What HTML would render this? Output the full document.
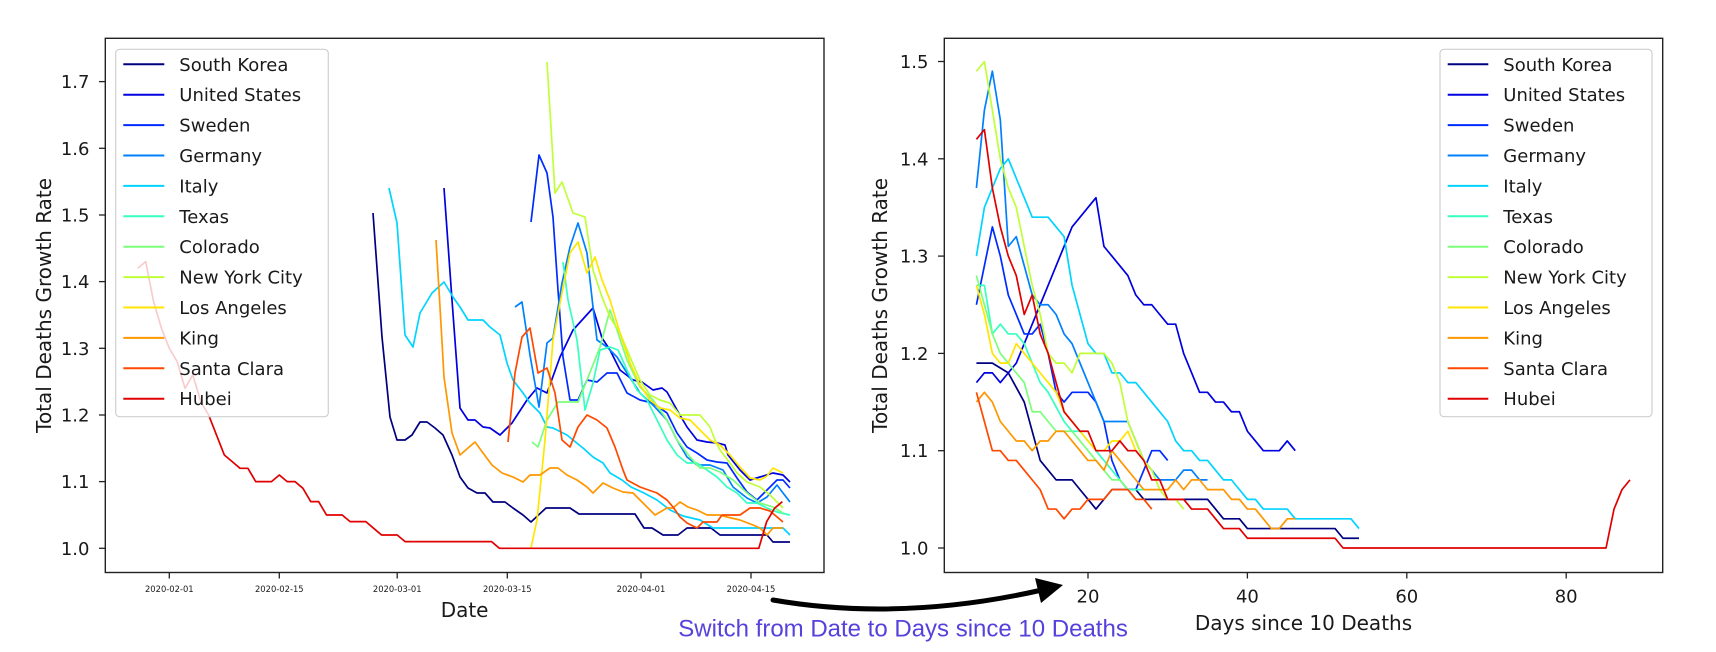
<!DOCTYPE html>
<html>
<head>
<meta charset="utf-8">
<style>
  html,body{margin:0;padding:0;background:#fff;}
  svg{display:block;}
  svg polyline{fill:none;vector-effect:non-scaling-stroke;stroke-width:1.7px;stroke-linejoin:round;stroke-linecap:butt;}
  .t{font-family:"DejaVu Sans","Liberation Sans",sans-serif;fill:#1a1a1a;}
</style>
</head>
<body>
<svg width="1716" height="652" viewBox="0 0 1716 652" xmlns="http://www.w3.org/2000/svg">
<rect x="0" y="0" width="1716" height="652" fill="#fff"/>

<!-- ================= LEFT CHART ================= -->
<g>
  <!-- SK -->
  <polyline stroke="#000080" points="373,213 382,337 390,417 397,440 405,440 412,435 420,422 427,422 435,428 443,435 452,455 460,477 468,488 477,493 485,493 493,502 505,502 513,508 523,515 531,522 546,508 570,508 579,514 635,514 644,528 652,528 663,535 678,535 687,528 711,528 720,535 767,535 773,542 790,542"/>
  <!-- US -->
  <polyline stroke="#0000e0" points="444,188 452,300 460,408 468,420 475,420 483,427 490,428 500,435 512,423 527,400 537,388 547,393 560,357 573,330 593,308 602,338 610,350 620,370 633,380 642,382 653,390 662,388 667,392 677,410 687,427 697,440 707,442 717,443 725,445 728,455 740,470 750,480 760,477 773,473 783,475 790,482"/>
  <!-- Sweden -->
  <polyline stroke="#002bff" points="531,222 539,155 547,173 553,217 558,290 563,357 570,400 578,400 587,380 597,382 607,373 617,373 627,393 640,400 653,403 667,413 677,433 687,447 697,453 707,460 717,462 727,463 737,478 747,492 757,500 767,490 777,480 783,480 790,488"/>
  <!-- Germany -->
  <polyline stroke="#0080ff" points="515,307 522,302 530,355 539,407 547,343 553,338 562,283 570,247 578,223 587,253 593,307 597,340 607,347 617,357 627,373 640,393 653,405 667,420 677,440 687,457 697,465 710,465 723,470 733,487 747,498 757,503 767,497 777,485 783,493 790,502"/>
  <!-- Italy -->
  <polyline stroke="#00d4ff" points="389,188 397,223 405,335 413,347 420,313 432,293 444,282 453,297 460,307 468,320 483,320 490,327 500,335 507,363 513,380 523,393 530,403 540,413 547,427 553,428 567,435 573,440 583,448 593,457 603,463 610,473 622,480 631,487 644,493 657,500 670,510 683,516 700,520 713,528 783,528 790,535"/>
  <!-- Texas -->
  <polyline stroke="#37ffc0" points="563,262 568,300 577,340 585,410 593,383 600,350 610,347 618,350 627,370 637,390 647,400 657,420 667,440 677,455 687,463 697,463 707,470 717,477 727,487 737,493 747,503 757,503 767,508 777,512 790,515"/>
  <!-- Colorado -->
  <polyline stroke="#7bff7b" points="532,442 538,447 547,420 558,402 578,402 587,380 600,347 610,310 617,330 627,360 640,387 653,400 667,420 677,440 690,457 700,468 710,468 720,472 733,480 747,493 760,503 773,507 783,513"/>
  <!-- NYC -->
  <polyline stroke="#c0ff37" points="547,62 555,193 562,182 573,213 585,217 593,270 602,297 610,317 620,333 630,357 640,380 650,395 660,400 670,403 680,415 700,415 710,427 715,440 720,450 730,463 737,473 747,482 760,487 770,495 783,508"/>
  <!-- LA -->
  <polyline stroke="#ffe600" points="531,548 537,520 545,440 553,340 562,293 570,253 578,242 587,273 595,257 602,280 610,300 620,333 630,363 640,385 650,400 660,408 670,410 680,418 690,420 700,430 710,440 720,445 730,455 740,467 750,478 760,480 767,476 773,468 783,473"/>
  <!-- King -->
  <polyline stroke="#ff9700" points="436,240 440,307 444,377 452,433 460,455 468,448 475,442 483,453 492,465 502,473 513,477 523,482 530,475 540,475 550,468 558,468 567,475 577,480 587,487 593,493 603,483 613,488 623,492 633,493 647,507 655,515 667,508 673,508 680,502 688,507 697,510 707,515 720,515 727,517 740,520 753,525 760,528 767,535 773,528 783,528"/>
  <!-- Santa Clara -->
  <polyline stroke="#ff4800" points="508,442 515,373 522,337 530,328 538,373 547,368 555,393 562,440 570,447 578,427 587,415 597,420 607,428 615,447 623,470 627,480 640,487 657,493 667,500 673,507 680,517 687,523 697,528 703,522 717,522 722,515 740,515 750,508 760,508 770,511 783,522"/>
  <!-- Hubei -->
  <g transform="matrix(7.86 0 0 -666.7 90.7 1215)">
    <polyline stroke="#e00000" points="6,1.42 7,1.43 8,1.37 9,1.33 10,1.30 11,1.28 12,1.24 13,1.26 14,1.22 15,1.20 16,1.17 17,1.14 18,1.13 19,1.12 20,1.12 21,1.10 22,1.10 23,1.10 24,1.11 25,1.10 26,1.10 27,1.09 28,1.07 29,1.07 30,1.05 31,1.05 32,1.05 33,1.04 34,1.04 35,1.04 36,1.03 37,1.02 38,1.02 39,1.02 40,1.01 51,1.01 52,1.00 85,1.00 86,1.04 87,1.06 88,1.07"/>
  </g>
</g>

<!-- left axes frame -->
<rect x="105.3" y="38.3" width="718.7" height="534.2" fill="none" stroke="#222" stroke-width="1.4"/>
<!-- left y ticks -->
<g stroke="#222" stroke-width="1.3">
  <line x1="99" y1="548.3" x2="105.3" y2="548.3"/>
  <line x1="99" y1="481.6" x2="105.3" y2="481.6"/>
  <line x1="99" y1="415" x2="105.3" y2="415"/>
  <line x1="99" y1="348.3" x2="105.3" y2="348.3"/>
  <line x1="99" y1="281.6" x2="105.3" y2="281.6"/>
  <line x1="99" y1="215" x2="105.3" y2="215"/>
  <line x1="99" y1="148.3" x2="105.3" y2="148.3"/>
  <line x1="99" y1="81.6" x2="105.3" y2="81.6"/>
  <!-- x ticks -->
  <line x1="169.3" y1="572.5" x2="169.3" y2="578.5"/>
  <line x1="279.3" y1="572.5" x2="279.3" y2="578.5"/>
  <line x1="397.2" y1="572.5" x2="397.2" y2="578.5"/>
  <line x1="507.3" y1="572.5" x2="507.3" y2="578.5"/>
  <line x1="641" y1="572.5" x2="641" y2="578.5"/>
  <line x1="751" y1="572.5" x2="751" y2="578.5"/>
</g>
<g class="t" font-size="18" text-anchor="end">
  <text x="89.5" y="554.8">1.0</text>
  <text x="89.5" y="488.1">1.1</text>
  <text x="89.5" y="421.5">1.2</text>
  <text x="89.5" y="354.8">1.3</text>
  <text x="89.5" y="288.1">1.4</text>
  <text x="89.5" y="221.5">1.5</text>
  <text x="89.5" y="154.8">1.6</text>
  <text x="89.5" y="88.1">1.7</text>
</g>
<g class="t" font-size="8.4" text-anchor="middle">
  <text x="169.3" y="592">2020-02-01</text>
  <text x="279.3" y="592">2020-02-15</text>
  <text x="397.2" y="592">2020-03-01</text>
  <text x="507.3" y="592">2020-03-15</text>
  <text x="641" y="592">2020-04-01</text>
  <text x="751" y="592">2020-04-15</text>
</g>
<text class="t" font-size="20" text-anchor="middle" x="464.6" y="617">Date</text>
<text class="t" font-size="20" text-anchor="middle" transform="translate(51,305.4) rotate(-90)">Total Deaths Growth Rate</text>

<!-- left legend -->
<rect x="115.7" y="49.3" width="212.6" height="367.4" rx="4" ry="4" fill="#fff" fill-opacity="0.8" stroke="#cfcfcf" stroke-width="1.2"/>
<g stroke-width="2">
  <line x1="123.3" x2="164.3" y1="64.3" y2="64.3" stroke="#000080"/>
  <line x1="123.3" x2="164.3" y1="94.7" y2="94.7" stroke="#0000e0"/>
  <line x1="123.3" x2="164.3" y1="125.1" y2="125.1" stroke="#002bff"/>
  <line x1="123.3" x2="164.3" y1="155.5" y2="155.5" stroke="#0080ff"/>
  <line x1="123.3" x2="164.3" y1="185.9" y2="185.9" stroke="#00d4ff"/>
  <line x1="123.3" x2="164.3" y1="216.3" y2="216.3" stroke="#37ffc0"/>
  <line x1="123.3" x2="164.3" y1="246.7" y2="246.7" stroke="#7bff7b"/>
  <line x1="123.3" x2="164.3" y1="277.1" y2="277.1" stroke="#c0ff37"/>
  <line x1="123.3" x2="164.3" y1="307.5" y2="307.5" stroke="#ffe600"/>
  <line x1="123.3" x2="164.3" y1="337.9" y2="337.9" stroke="#ff9700"/>
  <line x1="123.3" x2="164.3" y1="368.3" y2="368.3" stroke="#ff4800"/>
  <line x1="123.3" x2="164.3" y1="398.7" y2="398.7" stroke="#e00000"/>
</g>
<g class="t" font-size="18">
  <text x="179.3" y="70.8">South Korea</text>
  <text x="179.3" y="101.2">United States</text>
  <text x="179.3" y="131.6">Sweden</text>
  <text x="179.3" y="162">Germany</text>
  <text x="179.3" y="192.4">Italy</text>
  <text x="179.3" y="222.8">Texas</text>
  <text x="179.3" y="253.2">Colorado</text>
  <text x="179.3" y="283.6">New York City</text>
  <text x="179.3" y="314">Los Angeles</text>
  <text x="179.3" y="344.4">King</text>
  <text x="179.3" y="374.8">Santa Clara</text>
  <text x="179.3" y="405.2">Hubei</text>
</g>

<!-- ================= RIGHT CHART ================= -->
<g transform="matrix(7.97 0 0 -973 928.6 1521)">
  <polyline stroke="#000080" points="6,1.19 7,1.19 8,1.19 9,1.185 10,1.18 11,1.165 12,1.15 13,1.12 14,1.09 15,1.08 16,1.07 17,1.07 18,1.07 19,1.06 20,1.05 21,1.04 22,1.05 23,1.06 24,1.06 25,1.06 26,1.06 27,1.05 28,1.05 29,1.05 30,1.05 31,1.05 32,1.05 33,1.05 34,1.05 35,1.05 36,1.04 37,1.03 38,1.03 39,1.03 40,1.02 41,1.02 50,1.02 51,1.02 52,1.01 53,1.01 54,1.01"/>
  <polyline stroke="#0000e0" points="6,1.17 7,1.18 8,1.18 9,1.17 10,1.18 11,1.19 12,1.21 13,1.23 14,1.25 15,1.27 16,1.29 17,1.31 18,1.33 19,1.34 20,1.35 21,1.36 22,1.31 23,1.30 24,1.29 25,1.28 26,1.26 27,1.25 28,1.25 29,1.24 30,1.23 31,1.23 32,1.20 33,1.18 34,1.16 35,1.16 36,1.15 37,1.15 38,1.14 39,1.14 40,1.12 41,1.11 42,1.10 43,1.10 44,1.10 45,1.11 46,1.10"/>
  <polyline stroke="#002bff" points="6,1.25 7,1.29 8,1.33 9,1.30 10,1.26 11,1.24 12,1.22 13,1.22 14,1.23 15,1.20 16,1.16 17,1.15 18,1.16 19,1.16 20,1.16 21,1.15 22,1.13 23,1.09 24,1.07 25,1.06 26,1.06 27,1.08 28,1.10 29,1.10 30,1.09"/>
  <polyline stroke="#0080ff" points="6,1.37 7,1.45 8,1.49 9,1.44 10,1.31 11,1.32 12,1.29 13,1.26 14,1.25 15,1.25 16,1.24 17,1.22 18,1.21 19,1.19 20,1.17 21,1.15 22,1.13 23,1.13 24,1.13 25,1.13 26,1.11 27,1.09 28,1.08 29,1.07 30,1.07 31,1.07 32,1.08 33,1.08 34,1.07 35,1.07"/>
  <polyline stroke="#00d4ff" points="6,1.30 7,1.35 8,1.37 9,1.39 10,1.40 11,1.38 12,1.36 13,1.34 14,1.34 15,1.34 16,1.33 17,1.32 18,1.27 19,1.24 20,1.21 21,1.20 22,1.20 23,1.18 24,1.18 25,1.17 26,1.17 27,1.16 28,1.15 29,1.14 30,1.13 31,1.11 32,1.10 33,1.10 34,1.09 35,1.09 36,1.08 37,1.07 38,1.07 39,1.06 40,1.05 41,1.05 42,1.04 43,1.04 44,1.04 45,1.04 46,1.03 53,1.03 54,1.02"/>
  <polyline stroke="#37ffc0" points="6,1.27 7,1.27 8,1.22 9,1.23 10,1.22 11,1.22 12,1.21 13,1.19 14,1.17 15,1.16 16,1.145 17,1.13 18,1.12 19,1.12 20,1.11 21,1.10 22,1.09 23,1.08 24,1.07 25,1.06 26,1.06 27,1.06"/>
  <polyline stroke="#7bff7b" points="6,1.28 7,1.25 8,1.22 9,1.20 10,1.19 11,1.18 12,1.17 13,1.14 14,1.14 15,1.13 16,1.12 17,1.12 18,1.12 19,1.11 20,1.10 21,1.09 22,1.08 23,1.07 24,1.07 25,1.06 26,1.05"/>
  <polyline stroke="#c0ff37" points="6,1.49 7,1.50 8,1.45 9,1.40 10,1.37 11,1.35 12,1.31 13,1.27 14,1.24 15,1.20 16,1.19 17,1.19 18,1.18 19,1.20 20,1.20 21,1.20 22,1.20 23,1.19 24,1.17 25,1.13 26,1.11 27,1.09 28,1.08 29,1.06 30,1.05 31,1.05 32,1.04"/>
  <polyline stroke="#ffe600" points="6,1.27 7,1.24 8,1.20 9,1.19 10,1.19 11,1.21 12,1.20 13,1.19 14,1.18 15,1.17 16,1.16 17,1.14 18,1.13 19,1.12 20,1.11 21,1.10 22,1.10 23,1.11 24,1.11 25,1.12 26,1.10"/>
  <polyline stroke="#ff9700" points="6,1.15 7,1.16 8,1.15 9,1.13 10,1.12 11,1.11 12,1.11 13,1.10 14,1.11 15,1.11 16,1.12 17,1.12 18,1.11 19,1.10 20,1.09 21,1.09 22,1.08 23,1.10 24,1.09 25,1.08 26,1.07 27,1.06 28,1.06 29,1.06 30,1.06 31,1.07 32,1.06 33,1.07 34,1.07 35,1.06 36,1.06 37,1.06 38,1.05 39,1.05 40,1.04 41,1.04 42,1.03 43,1.02 44,1.02 45,1.03 46,1.03"/>
  <polyline stroke="#ff4800" points="6,1.16 7,1.13 8,1.10 9,1.10 10,1.09 11,1.09 12,1.08 13,1.07 14,1.06 15,1.04 16,1.04 17,1.03 18,1.04 19,1.04 20,1.05 21,1.05 22,1.05 23,1.06 24,1.06 25,1.06 26,1.05 27,1.05 28,1.04"/>
  <polyline stroke="#e00000" points="6,1.42 7,1.43 8,1.37 9,1.33 10,1.30 11,1.28 12,1.24 13,1.26 14,1.22 15,1.20 16,1.17 17,1.14 18,1.13 19,1.12 20,1.12 21,1.10 22,1.10 23,1.10 24,1.11 25,1.10 26,1.10 27,1.09 28,1.07 29,1.07 30,1.05 31,1.05 32,1.05 33,1.04 34,1.04 35,1.04 36,1.03 37,1.02 38,1.02 39,1.02 40,1.01 51,1.01 52,1.00 85,1.00 86,1.04 87,1.06 88,1.07"/>
</g>

<!-- right axes frame -->
<rect x="944.3" y="38.3" width="718.4" height="534.2" fill="none" stroke="#222" stroke-width="1.4"/>
<g stroke="#222" stroke-width="1.3">
  <line x1="938" y1="548" x2="944.3" y2="548"/>
  <line x1="938" y1="450.7" x2="944.3" y2="450.7"/>
  <line x1="938" y1="353.4" x2="944.3" y2="353.4"/>
  <line x1="938" y1="256.1" x2="944.3" y2="256.1"/>
  <line x1="938" y1="158.8" x2="944.3" y2="158.8"/>
  <line x1="938" y1="61.5" x2="944.3" y2="61.5"/>
  <line x1="1088" y1="572.5" x2="1088" y2="578.5"/>
  <line x1="1247.4" y1="572.5" x2="1247.4" y2="578.5"/>
  <line x1="1406.8" y1="572.5" x2="1406.8" y2="578.5"/>
  <line x1="1566.2" y1="572.5" x2="1566.2" y2="578.5"/>
</g>
<g class="t" font-size="18" text-anchor="end">
  <text x="928.5" y="554.5">1.0</text>
  <text x="928.5" y="457.2">1.1</text>
  <text x="928.5" y="359.9">1.2</text>
  <text x="928.5" y="262.6">1.3</text>
  <text x="928.5" y="165.3">1.4</text>
  <text x="928.5" y="68">1.5</text>
</g>
<g class="t" font-size="18" text-anchor="middle">
  <text x="1088" y="602.5">20</text>
  <text x="1247.4" y="602.5">40</text>
  <text x="1406.8" y="602.5">60</text>
  <text x="1566.2" y="602.5">80</text>
</g>
<text class="t" font-size="20" text-anchor="middle" x="1303.5" y="630">Days since 10 Deaths</text>
<text class="t" font-size="20" text-anchor="middle" transform="translate(887,305.4) rotate(-90)">Total Deaths Growth Rate</text>

<!-- right legend -->
<rect x="1440" y="49.3" width="212" height="367.4" rx="4" ry="4" fill="#fff" fill-opacity="0.8" stroke="#cfcfcf" stroke-width="1.2"/>
<g stroke-width="2">
  <line x1="1447.7" x2="1488.3" y1="64.3" y2="64.3" stroke="#000080"/>
  <line x1="1447.7" x2="1488.3" y1="94.7" y2="94.7" stroke="#0000e0"/>
  <line x1="1447.7" x2="1488.3" y1="125.1" y2="125.1" stroke="#002bff"/>
  <line x1="1447.7" x2="1488.3" y1="155.5" y2="155.5" stroke="#0080ff"/>
  <line x1="1447.7" x2="1488.3" y1="185.9" y2="185.9" stroke="#00d4ff"/>
  <line x1="1447.7" x2="1488.3" y1="216.3" y2="216.3" stroke="#37ffc0"/>
  <line x1="1447.7" x2="1488.3" y1="246.7" y2="246.7" stroke="#7bff7b"/>
  <line x1="1447.7" x2="1488.3" y1="277.1" y2="277.1" stroke="#c0ff37"/>
  <line x1="1447.7" x2="1488.3" y1="307.5" y2="307.5" stroke="#ffe600"/>
  <line x1="1447.7" x2="1488.3" y1="337.9" y2="337.9" stroke="#ff9700"/>
  <line x1="1447.7" x2="1488.3" y1="368.3" y2="368.3" stroke="#ff4800"/>
  <line x1="1447.7" x2="1488.3" y1="398.7" y2="398.7" stroke="#e00000"/>
</g>
<g class="t" font-size="18">
  <text x="1503.3" y="70.8">South Korea</text>
  <text x="1503.3" y="101.2">United States</text>
  <text x="1503.3" y="131.6">Sweden</text>
  <text x="1503.3" y="162">Germany</text>
  <text x="1503.3" y="192.4">Italy</text>
  <text x="1503.3" y="222.8">Texas</text>
  <text x="1503.3" y="253.2">Colorado</text>
  <text x="1503.3" y="283.6">New York City</text>
  <text x="1503.3" y="314">Los Angeles</text>
  <text x="1503.3" y="344.4">King</text>
  <text x="1503.3" y="374.8">Santa Clara</text>
  <text x="1503.3" y="405.2">Hubei</text>
</g>

<!-- ================= ARROW + ANNOTATION ================= -->
<path d="M 773 600 Q 900 622 1042 590" fill="none" stroke="#000" stroke-width="5" stroke-linecap="round"/>
<polygon points="1063,585 1035,578 1041,603" fill="#000"/>
<text x="678.3" y="636.5" font-family="'Liberation Sans', Arial, sans-serif" font-size="24" fill="#5541db">Switch from Date to Days since 10 Deaths</text>

</svg>
</body>
</html>
